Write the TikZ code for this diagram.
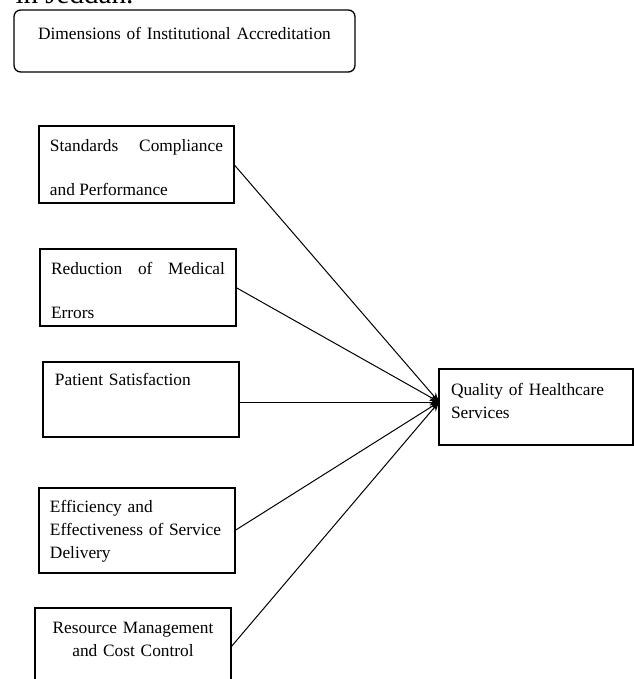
\documentclass[tikz,border=0pt]{standalone}
\usepackage{fontspec}
\setmainfont{Liberation Serif}
\usetikzlibrary{arrows.meta}
\tikzset{dim/.style={draw, line width=1pt, anchor=base west, outer sep=0pt,
  inner ysep=0pt, font=\fontsize{13}{17.6}\selectfont, align=left},
  wide/.style={font=\fontsize{13}{33}\selectfont, align=justify,
  execute at begin node={\hyphenpenalty=10000\tolerance=10000}}}

\begin{document}
\begin{tikzpicture}[x=0.75pt, y=-0.75pt, >={Stealth[length=7pt,width=5.5pt]},
  line width=0.75pt]
  \useasboundingbox (0,0) rectangle (634,679);
  \clip (0,0) rectangle (634,679);
  \node[anchor=base west, inner sep=0pt, font=\fontsize{21.8}{26}\selectfont]
    (cap) at (15,3) {in Jeddah.};
  \node[dim, rounded corners=5pt, align=center, text width=240.75pt,
    inner xsep=7.5pt, text height=21.75pt, text depth=24.75pt]
    (dims) at (14,39) {Dimensions of Institutional Accreditation};
  % dimension boxes
  \node[dim, wide, text width=129.75pt, inner xsep=8.25pt, text height=18.75pt,
    text depth=39pt] (std) at (39,151) {Standards Compliance and Performance};
  \node[dim, wide, text width=130.5pt, inner xsep=8.25pt, text height=18.75pt,
    text depth=39pt] (err) at (40,274) {Reduction of Medical Errors};
  \node[dim, text width=129pt, inner xsep=9pt, text height=17.25pt,
    text depth=39pt] (pat) at (43,385) {Patient Satisfaction};
  \node[dim, text width=130.5pt, inner xsep=8.25pt, text height=18pt,
    text depth=45.75pt] (eff) at (39,512)
    {Efficiency and\\Effectiveness of Service\\Delivery};
  \node[dim, align=center, text width=130.5pt, inner xsep=8.25pt,
    text height=18.75pt, text depth=39.75pt] (res) at (35,633)
    {Resource Management\\and Cost Control};
  \node[dim, text width=127.5pt, inner xsep=9pt, text height=19.5pt,
    text depth=37.5pt] (qual) at (439,395) {Quality of Healthcare\\Services};
  \coordinate (hub) at ([yshift=3.75pt]qual.west);
  % edges into the outcome
  \draw[->] (std.east) -- (hub);
  \draw[->] (err.east) -- (hub);
  \draw[->] (pat.east |- hub) -- (hub);
  \draw[->] (eff.east) -- (hub);
  \draw[->] (res.east) -- (hub);
\end{tikzpicture}
\end{document}
